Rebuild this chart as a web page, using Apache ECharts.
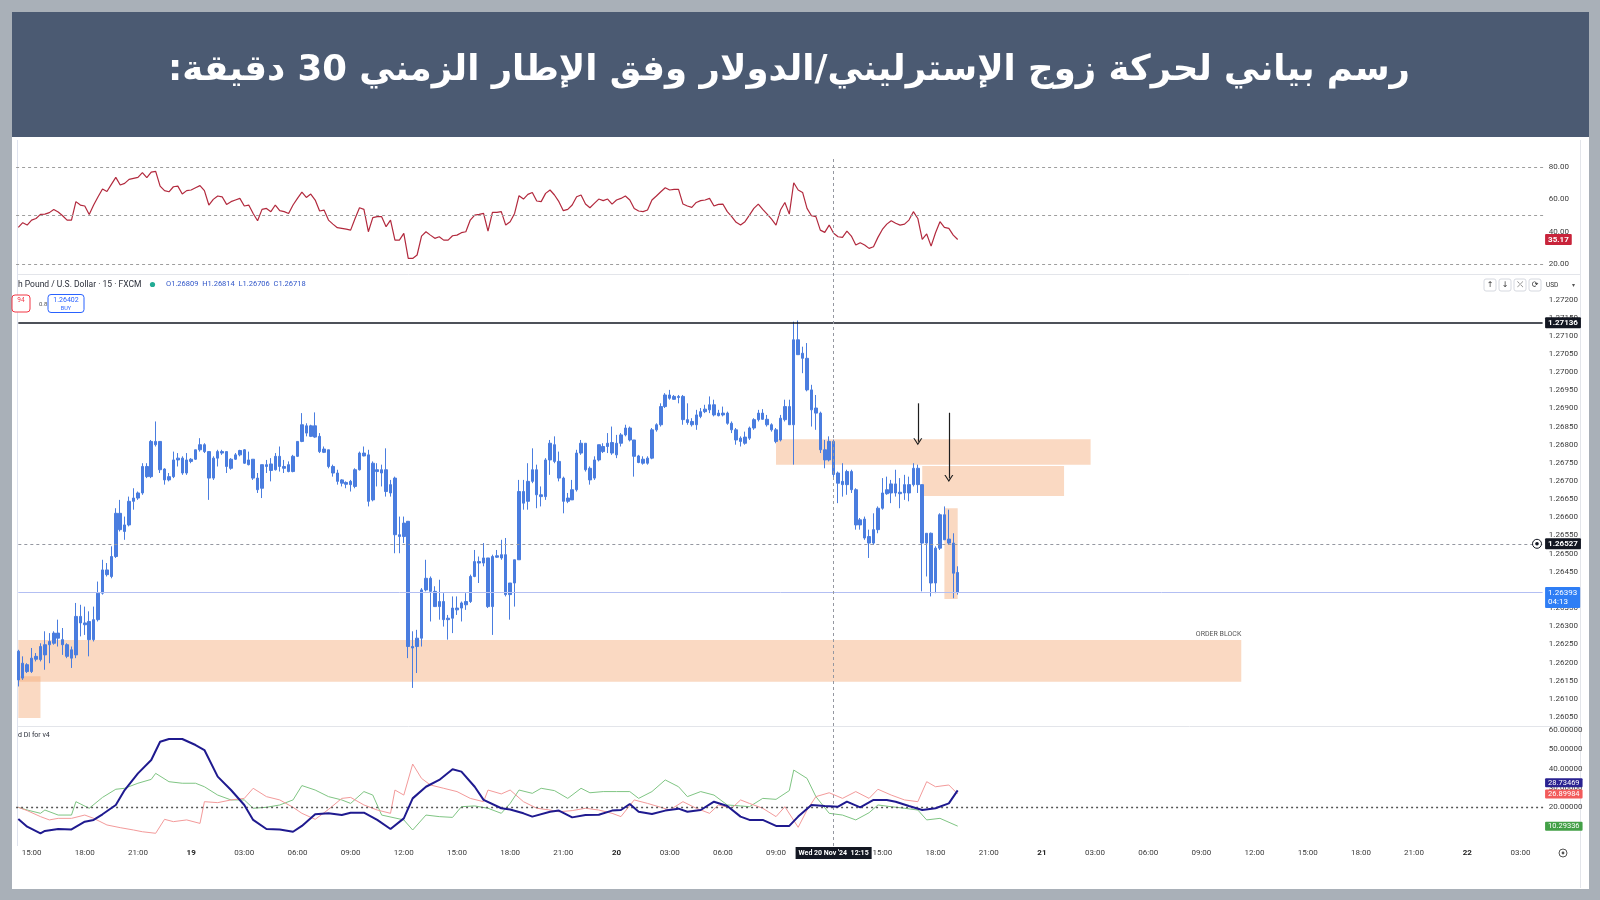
<!DOCTYPE html>
<html>
<head>
<meta charset="utf-8">
<script src="https://cdn.jsdelivr.net/npm/echarts/dist/echarts.min.js"></script>
<style>
  html, body { margin: 0; padding: 0; background: #a9b0b8; }
  #chart { width: 1600px; height: 900px; }
</style>
</head>
<body>
<div id="chart"></div>
<script>
  const title = 'رسم بياني لحركة زوج الإسترليني/الدولار وفق الإطار الزمني 30 دقيقة:'

  // 15 minute bars, first bar 18 Nov 2024 14:15 (UTC)
  const startTime = Date.UTC(2024, 10, 18, 14, 15)
  const barCount = 345
  const times = []
  for (let i = 0; i < barCount; i++) {
    const d = new Date(startTime + i * 15 * 60000)
    const hh = String(d.getUTCHours()).padStart(2, '0')
    const mm = String(d.getUTCMinutes()).padStart(2, '0')
    times.push(d.getUTCDate() + ' ' + hh + ':' + mm)
  }

  // [open, close, low, high]
  const ohlc = [
    [1.26231,1.26152,1.26134,1.26235],[1.26157,1.26198,1.26152,1.26217],[1.26194,1.26175,1.26171,1.26198],[1.26175,1.26212,1.26171,1.26240],
    [1.26209,1.26217,1.26203,1.26226],[1.26208,1.26244,1.26203,1.26253],[1.26249,1.26221,1.26180,1.26286],[1.26249,1.26258,1.26198,1.26281],
    [1.26253,1.26281,1.26249,1.26286],[1.26281,1.26267,1.26244,1.26318],[1.26263,1.26249,1.26221,1.26295],[1.26249,1.26217,1.26212,1.26253],
    [1.26212,1.26235,1.26185,1.26244],[1.26221,1.26327,1.26212,1.26364],[1.26327,1.26309,1.26272,1.26359],[1.26309,1.26304,1.26276,1.26354],
    [1.26313,1.26263,1.26217,1.26341],[1.26263,1.26318,1.26258,1.26354],[1.26318,1.26391,1.26313,1.26423],[1.26391,1.26455,1.26387,1.26483],
    [1.26455,1.26442,1.26437,1.26474],[1.26437,1.26492,1.26432,1.26520],[1.26492,1.26611,1.26488,1.26625],[1.26611,1.26566,1.26561,1.26648],
    [1.26561,1.26579,1.26538,1.26602],[1.26579,1.26644,1.26575,1.26657],[1.26644,1.26653,1.26621,1.26680],[1.26653,1.26667,1.26648,1.26671],
    [1.26667,1.26740,1.26662,1.26749],[1.26740,1.26712,1.26708,1.26749],[1.26712,1.26809,1.26708,1.26813],[1.26809,1.26800,1.26795,1.26864],
    [1.26809,1.26731,1.26722,1.26809],[1.26733,1.26703,1.26690,1.26735],[1.26703,1.26712,1.26699,1.26722],[1.26712,1.26758,1.26708,1.26781],
    [1.26758,1.26763,1.26740,1.26777],[1.26763,1.26722,1.26717,1.26768],[1.26722,1.26758,1.26717,1.26777],[1.26754,1.26760,1.26749,1.26763],
    [1.26760,1.26786,1.26758,1.26786],[1.26786,1.26800,1.26781,1.26818],[1.26800,1.26781,1.26777,1.26804],[1.26781,1.26708,1.26648,1.26781],
    [1.26708,1.26763,1.26703,1.26768],[1.26763,1.26781,1.26740,1.26786],[1.26781,1.26777,1.26772,1.26786],[1.26781,1.26740,1.26722,1.26781],
    [1.26735,1.26760,1.26731,1.26763],[1.26760,1.26772,1.26758,1.26777],[1.26772,1.26784,1.26768,1.26786],[1.26786,1.26749,1.26747,1.26788],
    [1.26745,1.26758,1.26743,1.26781],[1.26760,1.26708,1.26703,1.26760],[1.26708,1.26676,1.26667,1.26722],[1.26680,1.26745,1.26653,1.26745],
    [1.26745,1.26740,1.26722,1.26758],[1.26747,1.26729,1.26699,1.26763],[1.26731,1.26768,1.26729,1.26777],[1.26768,1.26740,1.26726,1.26795],
    [1.26740,1.26735,1.26722,1.26758],[1.26726,1.26745,1.26724,1.26754],[1.26726,1.26768,1.26724,1.26772],[1.26768,1.26809,1.26766,1.26809],
    [1.26809,1.26855,1.26807,1.26887],[1.26852,1.26832,1.26823,1.26859],[1.26823,1.26852,1.26821,1.26855],[1.26852,1.26821,1.26819,1.26889],
    [1.26823,1.26781,1.26777,1.26832],[1.26788,1.26779,1.26777,1.26795],[1.26786,1.26740,1.26735,1.26786],[1.26740,1.26722,1.26712,1.26745],
    [1.26722,1.26699,1.26690,1.26731],[1.26703,1.26694,1.26685,1.26705],[1.26696,1.26691,1.26680,1.26699],[1.26690,1.26699,1.26671,1.26703],
    [1.26685,1.26731,1.26680,1.26735],[1.26731,1.26777,1.26729,1.26781],[1.26777,1.26769,1.26768,1.26795],[1.26772,1.26644,1.26630,1.26786],
    [1.26648,1.26749,1.26644,1.26754],[1.26731,1.26726,1.26685,1.26749],[1.26722,1.26731,1.26685,1.26745],[1.26731,1.26671,1.26657,1.26790],
    [1.26667,1.26690,1.26657,1.26703],[1.26708,1.26552,1.26501,1.26712],[1.26552,1.26547,1.26501,1.26602],[1.26547,1.26584,1.26529,1.26602],
    [1.26589,1.26244,1.26212,1.26589],[1.26244,1.26240,1.26130,1.26286],[1.26244,1.26267,1.26171,1.26290],[1.26267,1.26400,1.26244,1.26405],
    [1.26400,1.26432,1.26396,1.26483],[1.26432,1.26396,1.26313,1.26437],[1.26396,1.26354,1.26353,1.26410],[1.26354,1.26368,1.26318,1.26428],
    [1.26368,1.26318,1.26299,1.26391],[1.26318,1.26322,1.26263,1.26331],[1.26322,1.26350,1.26281,1.26382],[1.26350,1.26345,1.26331,1.26382],
    [1.26350,1.26364,1.26313,1.26368],[1.26359,1.26368,1.26345,1.26391],[1.26368,1.26437,1.26364,1.26442],[1.26437,1.26478,1.26435,1.26510],
    [1.26478,1.26474,1.26419,1.26492],[1.26474,1.26488,1.26465,1.26529],[1.26488,1.26354,1.26350,1.26488],[1.26354,1.26492,1.26276,1.26497],
    [1.26490,1.26494,1.26488,1.26510],[1.26497,1.26488,1.26483,1.26538],[1.26497,1.26387,1.26382,1.26543],[1.26387,1.26419,1.26318,1.26419],
    [1.26419,1.26483,1.26354,1.26483],[1.26483,1.26671,1.26483,1.26703],[1.26671,1.26639,1.26621,1.26703],[1.26644,1.26699,1.26621,1.26749],
    [1.26699,1.26731,1.26694,1.26790],[1.26731,1.26662,1.26625,1.26745],[1.26662,1.26657,1.26630,1.26685],[1.26657,1.26758,1.26648,1.26763],
    [1.26758,1.26804,1.26717,1.26813],[1.26800,1.26754,1.26749,1.26823],[1.26754,1.26708,1.26699,1.26781],[1.26708,1.26644,1.26611,1.26712],
    [1.26644,1.26653,1.26639,1.26667],[1.26648,1.26676,1.26648,1.26703],[1.26676,1.26777,1.26671,1.26786],[1.26777,1.26804,1.26772,1.26813],
    [1.26804,1.26731,1.26726,1.26804],[1.26735,1.26703,1.26690,1.26740],[1.26708,1.26758,1.26703,1.26768],[1.26758,1.26800,1.26754,1.26800],
    [1.26795,1.26781,1.26777,1.26804],[1.26795,1.26804,1.26777,1.26832],[1.26806,1.26777,1.26772,1.26850],[1.26772,1.26804,1.26763,1.26827],
    [1.26804,1.26827,1.26795,1.26832],[1.26827,1.26846,1.26823,1.26855],[1.26846,1.26813,1.26809,1.26850],[1.26813,1.26768,1.26712,1.26813],
    [1.26769,1.26751,1.26749,1.26772],[1.26749,1.26760,1.26745,1.26768],[1.26749,1.26763,1.26745,1.26768],[1.26763,1.26841,1.26760,1.26846],
    [1.26841,1.26855,1.26836,1.26859],[1.26855,1.26905,1.26850,1.26914],[1.26905,1.26937,1.26901,1.26942],[1.26937,1.26928,1.26924,1.26951],
    [1.26925,1.26933,1.26924,1.26937],[1.26933,1.26930,1.26914,1.26937],[1.26933,1.26869,1.26855,1.26937],[1.26869,1.26861,1.26855,1.26914],
    [1.26864,1.26855,1.26850,1.26873],[1.26855,1.26882,1.26841,1.26896],[1.26878,1.26891,1.26873,1.26901],[1.26891,1.26898,1.26887,1.26910],
    [1.26896,1.26910,1.26887,1.26933],[1.26910,1.26882,1.26878,1.26924],[1.26880,1.26887,1.26878,1.26896],[1.26887,1.26882,1.26878,1.26905],
    [1.26887,1.26859,1.26855,1.26891],[1.26859,1.26841,1.26832,1.26864],[1.26841,1.26813,1.26800,1.26846],[1.26818,1.26809,1.26795,1.26823],
    [1.26804,1.26821,1.26800,1.26836],[1.26818,1.26846,1.26813,1.26850],[1.26846,1.26869,1.26841,1.26873],[1.26869,1.26887,1.26864,1.26896],
    [1.26887,1.26870,1.26869,1.26898],[1.26870,1.26855,1.26850,1.26882],[1.26855,1.26841,1.26836,1.26859],[1.26841,1.26809,1.26804,1.26846],
    [1.26813,1.26873,1.26809,1.26882],[1.26869,1.26905,1.26864,1.26924],[1.26905,1.26855,1.26855,1.26924],[1.26855,1.27089,1.26745,1.27139],
    [1.27089,1.27048,1.27048,1.27142],[1.27052,1.27038,1.26997,1.27070],[1.27038,1.26951,1.26947,1.27080],[1.26951,1.26896,1.26850,1.26965],
    [1.26901,1.26887,1.26841,1.26937],[1.26887,1.26786,1.26777,1.26891],[1.26786,1.26758,1.26735,1.26813],[1.26758,1.26809,1.26754,1.26823],
    [1.26809,1.26718,1.26706,1.26814],[1.26722,1.26694,1.26639,1.26726],[1.26690,1.26699,1.26657,1.26749],[1.26690,1.26726,1.26662,1.26731],
    [1.26726,1.26676,1.26667,1.26731],[1.26676,1.26579,1.26566,1.26680],[1.26579,1.26593,1.26566,1.26598],[1.26595,1.26543,1.26538,1.26602],
    [1.26547,1.26529,1.26488,1.26566],[1.26529,1.26566,1.26524,1.26611],[1.26566,1.26625,1.26556,1.26630],[1.26625,1.26667,1.26621,1.26708],
    [1.26665,1.26676,1.26662,1.26712],[1.26692,1.26667,1.26639,1.26703],[1.26667,1.26692,1.26657,1.26731],[1.26669,1.26665,1.26625,1.26708],
    [1.26667,1.26690,1.26648,1.26717],[1.26690,1.26667,1.26644,1.26712],[1.26690,1.26735,1.26685,1.26749],[1.26735,1.26690,1.26667,1.26745],
    [1.26690,1.26529,1.26396,1.26690],[1.26529,1.26556,1.26437,1.26556],[1.26556,1.26419,1.26382,1.26558],[1.26419,1.26515,1.26391,1.26520],
    [1.26515,1.26607,1.26510,1.26611],[1.26607,1.26538,1.26538,1.26630],[1.26540,1.26529,1.26524,1.26621],[1.26529,1.26446,1.26377,1.26556],
    [1.26448,1.26393,1.26387,1.26465]
  ]

  const rsi = [
    42.7,45.6,44.1,47.2,48.2,50.7,50.9,51.8,53.8,52.2,
    49.9,47.2,47.2,58.6,56.5,55.9,50.7,56.5,61.6,66.4,
    64.9,69.3,73.6,68.9,69.9,72.4,73.0,73.6,76.5,73.4,
    76.9,77.3,68.2,65.4,64.7,67.8,68.2,63.3,65.4,65.8,
    67.2,68.5,65.4,56.5,60.0,62.1,61.6,56.9,58.6,59.6,
    60.6,55.9,56.5,51.3,46.8,53.8,54.4,52.4,56.5,53.0,
    52.4,51.3,56.5,60.6,64.5,61.2,63.3,59.6,52.8,53.4,
    47.2,44.7,42.5,42.1,41.6,41.0,48.2,54.8,53.8,40.0,
    48.7,49.3,49.3,43.1,47.2,34.8,34.8,39.0,23.5,23.5,
    25.6,37.3,40.0,37.9,35.9,36.9,34.8,34.8,37.5,37.9,
    39.4,40.0,47.2,50.3,50.7,51.3,40.4,52.0,52.0,52.4,
    44.1,46.2,51.3,62.3,60.2,63.1,64.3,59.0,58.6,63.7,
    65.8,62.7,58.6,53.0,53.8,56.5,61.6,62.7,57.1,54.8,
    57.5,60.2,59.2,60.2,57.1,59.6,60.6,62.1,59.6,54.4,
    52.8,52.4,53.4,59.6,62.1,64.7,67.2,65.8,66.2,66.2,
    57.1,55.9,55.1,58.1,59.2,59.6,60.6,55.9,56.9,57.1,
    52.4,49.3,45.8,44.1,46.2,50.3,54.4,57.1,53.8,50.9,
    47.8,44.1,53.4,58.1,50.9,70.3,65.8,64.3,54.4,49.9,
    49.3,41.0,39.6,44.1,39.0,36.9,36.5,40.4,37.3,31.8,
    33.2,31.8,29.7,30.7,36.5,41.4,44.7,46.8,45.2,44.1,
    44.7,47.2,52.4,48.2,35.3,38.6,31.1,39.4,46.2,42.7,
    42.1,37.9,35.17
  ]

  // DMI, read as [bar index, value]
  const adx = [
    [0,14.0],[2,10.0],[5,6.6],[6,7.8],[9,8.8],[12,8.6],[15,12.6],[17,13.5],[19,16.4],[22,21.2],[24,28.9],[27,37.5],
    [30,44.4],[32,53.8],[34,55.2],[37,55.2],[40,52.1],[42,49.5],[45,35.8],[48,28.9],[51,21.2],[53,13.5],[56,8.8],
    [59,8.6],[62,7.4],[64,10.4],[67,16.4],[70,16.9],[73,16.0],[75,17.2],[78,17.2],[81,13.5],[84,8.8],[87,14.3],
    [89,24.6],[92,30.6],[95,34.1],[98,39.6],[100,38.4],[103,30.6],[105,23.8],[109,19.5],[111,18.9],[114,16.9],
    [116,15.2],[120,17.7],[122,18.3],[125,14.8],[128,16.0],[131,16.2],[134,18.3],[136,18.6],[138,21.7],[140,17.7],
    [143,16.5],[146,18.3],[149,19.3],[151,17.7],[154,18.6],[157,22.9],[160,20.7],[163,15.2],[165,13.5],[168,13.5],
    [171,10.4],[174,10.4],[176,15.2],[179,21.2],[182,20.7],[185,20.3],[187,22.9],[190,20.0],[193,23.8],[196,23.8],
    [198,22.9],[201,20.7],[204,18.6],[207,19.5],[210,22.0],[212,28.73469]
  ]
  const plusDI = [
    [0,20.0],[2,18.6],[5,16.9],[6,18.6],[9,16.0],[12,16.0],[13,22.9],[16,19.5],[19,25.1],[22,29.3],[24,29.8],[27,32.4],
    [30,34.4],[31,37.5],[34,33.2],[37,32.4],[40,32.4],[42,30.6],[45,26.3],[48,23.8],[51,23.8],[53,19.5],[56,20.0],
    [59,21.2],[62,23.8],[64,31.2],[67,28.9],[70,25.5],[73,23.8],[75,22.0],[78,28.1],[80,26.3],[82,16.0],[87,13.5],
    [89,8.3],[92,16.0],[95,15.2],[98,14.8],[100,20.3],[103,20.7],[106,19.5],[109,16.9],[111,22.0],[113,28.9],
    [116,27.2],[118,29.8],[121,28.6],[124,24.6],[127,29.8],[129,27.5],[132,28.1],[135,28.1],[138,28.1],[140,24.6],
    [143,28.1],[146,34.1],[149,30.6],[151,25.5],[154,28.1],[157,26.3],[160,21.2],[163,20.7],[165,20.3],[168,24.6],
    [171,24.1],[174,28.6],[175,39.2],[178,34.9],[180,25.5],[183,16.9],[186,16.0],[189,13.5],[192,17.2],[194,21.2],
    [197,20.3],[200,19.5],[203,18.6],[205,13.5],[208,14.3],[212,10.29336]
  ]
  const minusDI = [
    [0,20.0],[2,18.3],[5,15.2],[7,13.5],[9,14.3],[12,14.3],[15,16.0],[17,14.3],[20,10.9],[23,9.5],[26,8.3],[28,7.4],
    [31,6.6],[33,13.8],[35,12.6],[38,13.5],[41,11.7],[42,22.9],[45,22.4],[48,23.8],[51,24.6],[53,29.8],[56,25.5],
    [59,23.8],[62,20.0],[64,16.9],[67,13.8],[70,18.9],[73,24.6],[75,25.1],[78,21.2],[81,18.6],[84,16.9],[85,28.9],
    [87,26.3],[89,42.3],[91,34.9],[93,31.5],[96,29.8],[99,28.1],[102,24.6],[105,22.9],[106,28.9],[109,26.9],
    [111,28.9],[114,22.9],[117,19.5],[120,18.6],[122,17.7],[125,18.3],[128,19.5],[131,18.6],[134,16.9],[136,15.2],
    [139,23.8],[142,22.0],[145,20.0],[147,18.6],[150,22.9],[153,19.5],[156,16.9],[158,21.2],[161,19.5],[163,23.8],
    [165,22.0],[168,19.5],[171,15.2],[173,20.3],[176,9.7],[178,18.6],[180,25.5],[183,27.5],[186,24.6],[189,28.1],
    [192,24.6],[194,29.3],[197,26.3],[200,23.8],[203,22.9],[205,33.2],[207,30.6],[210,31.5],[212,26.89984]
  ]

  const rsiLevels = [80, 50, 20]
  const dmiLevel = 20
  // zones: [from bar, to bar, low, high, label]
  const zones = [
    [0, 276, 1.26147, 1.26262, 'ORDER BLOCK'],
    [0, 5, 1.26047, 1.26162, ''],
    [171, 242, 1.26745, 1.26815, ''],
    [204, 236, 1.26659, 1.26741, ''],
    [209, 212, 1.26375, 1.26625, '']
  ]
  // arrows: [bar, from price, to price]
  const arrows = [[203, 1.26914, 1.26808], [210, 1.26888, 1.26707]]
  const resistance = 1.27136
  const crossPrice = 1.26527
  const lastPrice = 1.26393
  const crossBar = 184
  const lastRsi = 35.17
  const lastAdx = 28.73469
  const lastMinusDI = 26.89984
  const lastPlusDI = 10.29336

  const chart = echarts.init(document.getElementById('chart'))

  const left = 16.1
  const width = 1528.7
  const font = 'Roboto'
  const candleBlue = '#4a7ddf'
  const lastBar = times[barCount - 1]

  // value tag on the right scale, drawn as a tiny invisible point at the last slot
  const tag = (value, bg, text, dy, extra) => ({
    coord: [lastBar, value], symbol: 'rect', symbolSize: 1,
    itemStyle: { color: 'rgba(0,0,0,0)' },
    label: Object.assign({
      show: true, position: 'right', distance: 2, offset: [0, dy || 0], formatter: text,
      backgroundColor: bg, color: '#fff', fontSize: 8, fontWeight: 'bold', fontFamily: font,
      padding: [2, 3, 1, 3], borderRadius: 1
    }, extra || {})
  })

  const hLine = (value, style) => [
    { coord: [times[0], value], lineStyle: style, label: { show: false } },
    { coord: [lastBar, value] }
  ]

  const xAxisFor = (gridIndex, showLabel) => ({
    type: 'category', gridIndex, data: times, boundaryGap: true,
    axisLine: { show: false }, axisTick: { show: false }, splitLine: { show: false },
    axisLabel: showLabel ? {
      show: true, margin: 3, color: '#3b3b3b', fontSize: 8, fontFamily: font,
      interval: (idx, val) => {
        const t = val.split(' ')[1].split(':')
        return t[1] === '00' && Number(t[0]) % 3 === 0
      },
      formatter: val => {
        const p = val.split(' ')
        return p[1] === '00:00' ? '{d|' + p[0] + '}' : p[1]
      },
      rich: { d: { fontWeight: 'bold', fontSize: 8, color: '#222', fontFamily: font } }
    } : { show: false }
  })

  const yAxisFor = (gridIndex, min, max, interval, fmt, showMax) => ({
    type: 'value', gridIndex, position: 'right', min, max, interval, scale: false,
    axisLine: { show: false }, axisTick: { show: false }, splitLine: { show: false },
    axisLabel: fmt ? {
      show: true, margin: 4, color: '#3b3b3b', fontSize: 8, fontFamily: font,
      showMinLabel: false, showMaxLabel: !!showMax, formatter: fmt
    } : { show: false }
  })

  const zoneData = zones.map(z => [
    {
      xAxis: times[z[0]], yAxis: z[3],
      label: z[4] ? {
        show: true, formatter: z[4], position: ['100%', -2], align: 'right', verticalAlign: 'bottom',
        color: '#555', fontSize: 7, fontFamily: font
      } : { show: false }
    },
    { xAxis: times[z[1]], yAxis: z[2] }
  ])

  const chevron = 'path://M0,10 L5,0 L10,10 L8.6,10 L5,2.8 L1.4,10 Z'
  const arrowData = arrows.map(a => [
    { coord: [times[a[0]], a[1]], symbol: 'none', lineStyle: { color: '#1e1e1e', width: 1.2, type: 'solid' }, label: { show: false } },
    { coord: [times[a[0]], a[2]], symbol: chevron, symbolSize: [9, 7] }
  ])

  const dmiTag = { fontWeight: 'normal', fontSize: 7.5, padding: [1, 3, 0, 3] }

  const option = {
    animation: false,
    backgroundColor: '#a9b0b8',
    textStyle: { fontFamily: font },
    graphic: { elements: [
      { type: 'rect', z: -100, shape: { x: 12, y: 12, width: 1577, height: 877 }, style: { fill: '#ffffff' } },
      { type: 'rect', z: -90, shape: { x: 12, y: 12, width: 1577, height: 125 }, style: { fill: '#4b5a72' } },
      { type: 'text', z: 10, x: 789, y: 71, style: {
        text: '\u200F' + title + '\u200F', fill: '#ffffff', align: 'center', verticalAlign: 'middle',
        font: 'bold 35.5px "DejaVu Sans", "Noto Sans", sans-serif' } },
      // pane separators and widget edge
      { type: 'line', z: -50, shape: { x1: 18, y1: 274.5, x2: 1580, y2: 274.5 }, style: { stroke: '#e3e5ea', lineWidth: 1 } },
      { type: 'line', z: -50, shape: { x1: 18, y1: 726.5, x2: 1580, y2: 726.5 }, style: { stroke: '#e3e5ea', lineWidth: 1 } },
      { type: 'line', z: -50, shape: { x1: 1580.5, y1: 140, x2: 1580.5, y2: 888 }, style: { stroke: '#e3e5ea', lineWidth: 1 } },
      { type: 'line', z: -50, shape: { x1: 17.5, y1: 140, x2: 17.5, y2: 846 }, style: { stroke: '#dfe3ee', lineWidth: 1 } },
      // legend row of the price pane
      { type: 'text', z: 20, x: 18, y: 284.5, style: { text: 'h Pound / U.S. Dollar · 15 · FXCM', fill: '#2a2e39', fontSize: 8.5, fontFamily: font, verticalAlign: 'middle' } },
      { type: 'circle', z: 20, shape: { cx: 152.5, cy: 284.5, r: 2.6 }, style: { fill: '#22ab94' } },
      { type: 'text', z: 20, x: 166, y: 284.5, style: { text: 'O1.26809  H1.26814  L1.26706  C1.26718', fill: '#3157c9', fontSize: 7.5, fontFamily: font, verticalAlign: 'middle' } },
      { type: 'rect', z: 20, shape: { x: 12, y: 295, width: 18, height: 17, r: 3 }, style: { fill: '#fff', stroke: '#f23645', lineWidth: 1 } },
      { type: 'text', z: 21, x: 21, y: 300, style: { text: '94', fill: '#f23645', fontSize: 6.5, fontFamily: font, align: 'center', verticalAlign: 'middle' } },
      { type: 'text', z: 20, x: 39, y: 304, style: { text: '0.8', fill: '#555', fontSize: 6, fontFamily: font, verticalAlign: 'middle' } },
      { type: 'rect', z: 20, shape: { x: 48, y: 294.5, width: 36, height: 18, r: 3 }, style: { fill: '#fff', stroke: '#2962ff', lineWidth: 1 } },
      { type: 'text', z: 21, x: 66, y: 300, style: { text: '1.26402', fill: '#2962ff', fontSize: 7, fontFamily: font, align: 'center', verticalAlign: 'middle' } },
      { type: 'text', z: 21, x: 66, y: 308.5, style: { text: 'BUY', fill: '#2962ff', fontSize: 5.5, fontFamily: font, align: 'center', verticalAlign: 'middle' } },
      // toolbar at top right of the price pane
      ...['↑', '↓', '⤫', '⟳'].map((s, i) => ({ type: 'group', z: 20, children: [
        { type: 'rect', shape: { x: 1484 + i * 15, y: 279, width: 12, height: 12, r: 2 }, style: { fill: '#fff', stroke: '#d6d9e0', lineWidth: 1 } },
        { type: 'text', x: 1490 + i * 15, y: 285, style: { text: s, fill: '#333', fontSize: 8, fontFamily: 'DejaVu Sans', align: 'center', verticalAlign: 'middle' } }
      ] })),
      { type: 'text', z: 20, x: 1546, y: 285, style: { text: 'USD', fill: '#333', fontSize: 6.5, fontFamily: font, verticalAlign: 'middle' } },
      { type: 'text', z: 20, x: 1572, y: 285, style: { text: '▾', fill: '#555', fontSize: 6, fontFamily: 'DejaVu Sans', verticalAlign: 'middle' } },
      // crosshair price marker icon
      { type: 'circle', z: 30, shape: { cx: 1537, cy: 543.8, r: 4.5 }, style: { fill: '#fff', stroke: '#131722', lineWidth: 1 } },
      { type: 'circle', z: 31, shape: { cx: 1537, cy: 543.8, r: 1.8 }, style: { fill: '#131722' } },
      // indicator title
      { type: 'text', z: 20, x: 18, y: 735, style: { text: 'd DI for v4', fill: '#2a2e39', fontSize: 7, fontFamily: font, verticalAlign: 'middle' } },
      // settings icon bottom right
      { type: 'circle', z: 20, shape: { cx: 1563, cy: 853, r: 4 }, style: { fill: 'none', stroke: '#555', lineWidth: 1 } },
      { type: 'circle', z: 20, shape: { cx: 1563, cy: 853, r: 1.4 }, style: { fill: '#555' } }
    ] },
    grid: [
      { left, width, top: 134.7, height: 161.7 },
      { left, width, top: 263.2, height: 471.9 },
      { left, width, top: 729.7, height: 116.4 },
      { left, width, top: 156, height: 690 }
    ],
    xAxis: [xAxisFor(0, false), xAxisFor(1, false), xAxisFor(2, true), xAxisFor(3, false)],
    yAxis: [
      yAxisFor(0, 0, 100, 20, v => v.toFixed(2)),
      yAxisFor(1, 1.26, 1.273, 0.0005, v => (v > 1.2721 || v < 1.2604) ? '' : v.toFixed(5)),
      yAxisFor(2, 0, 60, 10, v => v.toFixed(5), true),
      yAxisFor(3, 0, 1, 1, null)
    ],
    series: [
      {
        name: 'RSI', type: 'line', xAxisIndex: 0, yAxisIndex: 0, data: rsi,
        symbol: 'none', lineStyle: { color: '#b2293d', width: 1.2 }, z: 3,
        markLine: {
          silent: true, symbol: 'none',
          data: rsiLevels.map(v => ({ yAxis: v, lineStyle: { color: '#9e9e9e', width: 1, type: [3, 3] }, label: { show: false } }))
        },
        markPoint: { silent: true, data: [tag(lastRsi, '#c8243b', lastRsi.toFixed(2), 0)] }
      },
      {
        name: 'GBPUSD', type: 'candlestick', xAxisIndex: 1, yAxisIndex: 1, data: ohlc,
        barWidth: 3, z: 3,
        itemStyle: { color: candleBlue, color0: candleBlue, borderColor: candleBlue, borderColor0: candleBlue, borderWidth: 1 },
        markArea: { silent: true, itemStyle: { color: 'rgba(245,170,120,0.45)' }, data: zoneData },
        markLine: {
          silent: true, symbol: 'none',
          data: [
            hLine(resistance, { color: '#131722', width: 1.5, type: 'solid' }),
            hLine(crossPrice, { color: '#9598a1', width: 1, type: [3, 3] }),
            hLine(lastPrice, { color: '#b3bff3', width: 1, type: 'solid' })
          ].concat(arrowData)
        },
        markPoint: {
          silent: true,
          data: [
            tag(resistance, '#131722', resistance.toFixed(5), 0),
            tag(crossPrice, '#131722', crossPrice.toFixed(5), 0),
            tag(lastPrice, '#2f7ef5', lastPrice.toFixed(5) + '\n04:13', 5, { fontWeight: 'normal', lineHeight: 9 })
          ]
        }
      },
      {
        name: 'ADX', type: 'line', xAxisIndex: 2, yAxisIndex: 2, data: adx,
        symbol: 'none', lineStyle: { color: '#1f1a8f', width: 2 }, z: 5,
        markLine: {
          silent: true, symbol: 'none',
          data: [{ yAxis: dmiLevel, lineStyle: { color: '#555', width: 1.4, type: [2, 3] }, label: { show: false } }]
        },
        markPoint: {
          silent: true,
          data: [
            tag(lastAdx, '#2a2291', lastAdx.toFixed(5), -7.5, dmiTag),
            tag(lastMinusDI, '#f25b5b', lastMinusDI.toFixed(5), 0, dmiTag),
            tag(lastPlusDI, '#43a047', lastPlusDI.toFixed(5), 0, dmiTag)
          ]
        }
      },
      { name: '+DI', type: 'line', xAxisIndex: 2, yAxisIndex: 2, data: plusDI, symbol: 'none', lineStyle: { color: '#7fc583', width: 1 }, z: 4 },
      { name: '-DI', type: 'line', xAxisIndex: 2, yAxisIndex: 2, data: minusDI, symbol: 'none', lineStyle: { color: '#f39a9a', width: 1 }, z: 4 },
      {
        name: 'crosshair', type: 'line', xAxisIndex: 3, yAxisIndex: 3, data: [[crossBar, 0.5]],
        symbol: 'none', lineStyle: { opacity: 0 },
        markLine: {
          silent: true, symbol: 'none',
          data: [{ xAxis: times[crossBar], lineStyle: { color: '#9598a1', width: 1, type: [3, 3] },
            label: { show: true, position: 'start', formatter: "Wed 20 Nov '24  12:15", backgroundColor: '#131722',
              color: '#fff', fontSize: 7, fontWeight: 'bold', fontFamily: font, padding: [3, 3, 2, 3], distance: 1 } }]
        }
      }
    ]
  }

  chart.setOption(option)
</script>
</body>
</html>
